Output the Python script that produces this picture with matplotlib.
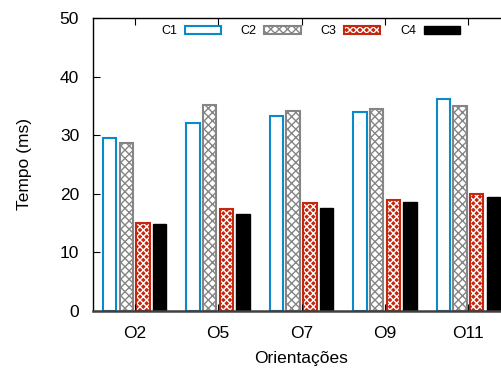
import numpy as np
import matplotlib
matplotlib.use("Agg")
import matplotlib.pyplot as plt
import matplotlib.patches as mpatches

plt.rcParams['font.family'] = ['Liberation Sans', 'DejaVu Sans']

# Tempo medio por orientacao, para cada configuracao
orientacoes = ['O2', 'O5', 'O7', 'O9', 'O11']
c1 = [29.6, 32.0, 33.2, 34.0, 36.1]
c2 = [28.7, 35.1, 34.1, 34.4, 34.9]
c3 = [15.1, 17.4, 18.4, 18.9, 20.0]
c4 = [14.9, 16.6, 17.5, 18.6, 19.4]

azul = '#0b8acb'
cinza = '#858585'
vermelho = '#c4260e'

fig = plt.figure(figsize=(5.02, 3.76), dpi=100)
# o eixo passa da borda direita da figura (grafico cortado)
ax = fig.add_axes([93 / 502, 1 - 311 / 376, 417 / 502, 293 / 376])

x = np.arange(len(orientacoes))
w = 0.16
step = 0.2

ax.bar(x - 1.5 * step, c1, w, facecolor='white', edgecolor=azul, linewidth=1.5)
ax.bar(x - 0.5 * step, c2, w, facecolor='white', edgecolor=cinza, hatch='xxxx', linewidth=1.5)
# C3: fundo vermelho com trama branca, depois o contorno vermelho por cima
ax.bar(x + 0.5 * step, c3, w, facecolor=vermelho, edgecolor='white', hatch='xxxxx', linewidth=0)
ax.bar(x + 0.5 * step, c3, w, fill=False, edgecolor=vermelho, linewidth=1.5)
ax.bar(x + 1.5 * step, c4, w, facecolor='black', edgecolor='black', linewidth=1)

# handles da legenda
h1 = mpatches.Patch(facecolor='white', edgecolor=azul, linewidth=1.5)
h2 = mpatches.Patch(facecolor='white', edgecolor=cinza, hatch='xxxx', linewidth=1.5)
h3 = mpatches.Patch(facecolor=vermelho, edgecolor='white', hatch='xxxxx', linewidth=0)
h3b = mpatches.Patch(fill=False, edgecolor=vermelho, linewidth=1.5)
h4 = mpatches.Patch(facecolor='black', edgecolor='black')
ax.legend([h1, h2, (h3, h3b), h4], ['C1', 'C2', 'C3', 'C4'], ncol=4, frameon=False,
          markerfirst=False, fontsize=9, handlelength=2.9, handleheight=0.6,
          columnspacing=1.6, handletextpad=0.6, loc='upper left',
          borderaxespad=0, borderpad=0,
          bbox_to_anchor=(68 / 417, 1 - 7 / 293))

ax.set_xlim(-0.5, len(orientacoes) - 0.5)
ax.set_ylim(0, 50)
ax.set_yticks(range(0, 51, 10))
ax.set_xticks(x)
ax.set_xticklabels(orientacoes)
ax.tick_params(axis='both', direction='in', labelsize=12.5, length=5, width=0.8)
ax.tick_params(axis='x', top=True, pad=11)
ax.tick_params(axis='y', pad=10)

ax.spines['bottom'].set_color('#404040')
ax.spines['bottom'].set_linewidth(1.8)
ax.spines['left'].set_linewidth(1.0)
ax.spines['top'].set_linewidth(1.0)

ax.set_xlabel('Orientações', fontsize=12.5, labelpad=7)
ax.set_ylabel('Tempo (ms)', fontsize=12.5, labelpad=20)

fig.savefig('out.png', dpi=100)
